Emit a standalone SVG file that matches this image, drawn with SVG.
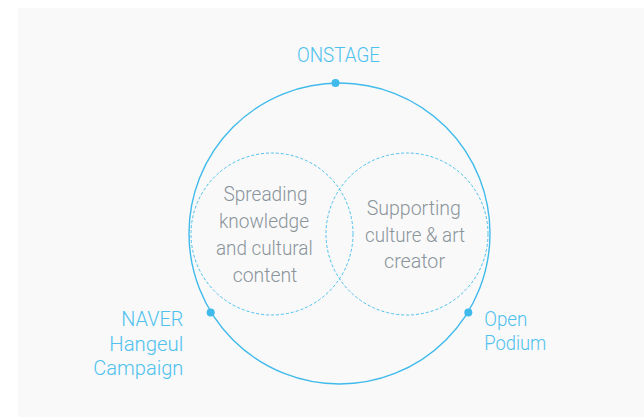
<svg xmlns="http://www.w3.org/2000/svg" width="644" height="418" viewBox="0 0 644 418">
  <style>
    .ring { fill: none; stroke: #3fbaeb; stroke-width: 1.4; }
    .dash { fill: none; stroke: #4cc0ee; stroke-width: 1; stroke-dasharray: 3 2; }
    .dot { fill: #3fbaeb; }
    .blue { font-family: Roboto, "Noto Sans", sans-serif; font-size: 21px; font-weight: 300; fill: #4ec1ee; }
    .gray { font-family: Roboto, "Noto Sans", sans-serif; font-size: 21px; font-weight: 300; fill: #8a949b; text-anchor: middle; }
  </style>
  <rect x="18" y="8" width="626" height="409" fill="#f9f9f9"/>

  <g id="onstage">
    <circle class="ring" cx="339.5" cy="233.5" r="150.5"/>
    <circle class="dot" cx="335.5" cy="83" r="4"/>
    <text class="blue" x="338.5" y="62.3" text-anchor="middle" textLength="83" lengthAdjust="spacingAndGlyphs">ONSTAGE</text>
  </g>

  <g id="spreading">
    <circle class="dash" cx="272" cy="234" r="81"/>
    <text class="gray" x="265.5" y="200.7" textLength="84" lengthAdjust="spacingAndGlyphs">Spreading</text>
    <text class="gray" x="264" y="227.5" textLength="90" lengthAdjust="spacingAndGlyphs">knowledge</text>
    <text class="gray" x="264.3" y="255" textLength="96.7" lengthAdjust="spacingAndGlyphs">and cultural</text>
    <text class="gray" x="265" y="281.7" textLength="64.7" lengthAdjust="spacingAndGlyphs">content</text>
  </g>

  <g id="supporting">
    <circle class="dash" cx="407" cy="234" r="81"/>
    <text class="gray" x="413.8" y="215" textLength="94.3" lengthAdjust="spacingAndGlyphs">Supporting</text>
    <text class="gray" x="415" y="241.7" textLength="100" lengthAdjust="spacingAndGlyphs">culture &amp; art</text>
    <text class="gray" x="414.5" y="268" textLength="61" lengthAdjust="spacingAndGlyphs">creator</text>
  </g>

  <g id="naver-hangeul">
    <circle class="dot" cx="210.7" cy="312.5" r="4"/>
    <text class="blue" x="183.3" y="326" text-anchor="end" textLength="62" lengthAdjust="spacingAndGlyphs">NAVER</text>
    <text class="blue" x="183.3" y="350.5" text-anchor="end" textLength="74" lengthAdjust="spacingAndGlyphs">Hangeul</text>
    <text class="blue" x="183.3" y="375" text-anchor="end" textLength="90" lengthAdjust="spacingAndGlyphs">Campaign</text>
  </g>

  <g id="open-podium">
    <circle class="dot" cx="468.3" cy="312.5" r="4"/>
    <text class="blue" x="484.3" y="325.5" textLength="43" lengthAdjust="spacingAndGlyphs">Open</text>
    <text class="blue" x="484.3" y="350" textLength="62" lengthAdjust="spacingAndGlyphs">Podium</text>
  </g>

  <g id="connectors"></g>
</svg>
